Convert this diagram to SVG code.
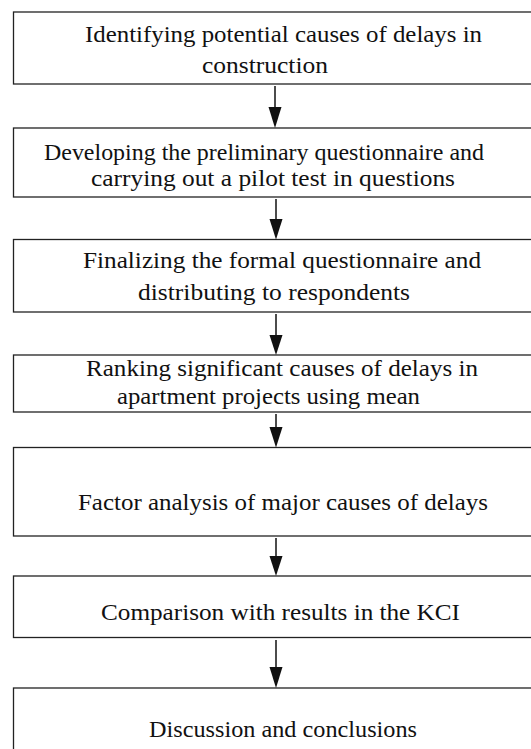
<svg xmlns="http://www.w3.org/2000/svg" width="531" height="749" viewBox="0 0 531 749">
<style>
.box{fill:#fff;stroke:#222;stroke-width:1.3}
.t{font-family:"Liberation Serif","Times New Roman",serif;font-size:23px;fill:#111}
.c{stroke:#111;stroke-width:1.5;fill:none}
.h{fill:#111}
</style>
<rect width="531" height="749" fill="#fff"/>
<g id="n1"><rect class="box" x="13.5" y="12" width="540" height="72"/>
<text class="t" x="85" y="42" textLength="397" lengthAdjust="spacingAndGlyphs">Identifying potential causes of delays in</text>
<text class="t" x="202" y="73" textLength="126" lengthAdjust="spacingAndGlyphs">construction</text></g>
<g id="n2"><rect class="box" x="13.5" y="128" width="540" height="69"/>
<text class="t" x="44" y="160" textLength="440" lengthAdjust="spacingAndGlyphs">Developing the preliminary questionnaire and</text>
<text class="t" x="91" y="186" textLength="364" lengthAdjust="spacingAndGlyphs">carrying out a pilot test in questions</text></g>
<g id="n3"><rect class="box" x="13.5" y="239.5" width="540" height="72.5"/>
<text class="t" x="83" y="268" textLength="398" lengthAdjust="spacingAndGlyphs">Finalizing the formal questionnaire and</text>
<text class="t" x="138" y="300" textLength="272" lengthAdjust="spacingAndGlyphs">distributing to respondents</text></g>
<g id="n4"><rect class="box" x="13.5" y="355" width="540" height="57"/>
<text class="t" x="86" y="376" textLength="392" lengthAdjust="spacingAndGlyphs">Ranking significant causes of delays in</text>
<text class="t" x="117" y="404" textLength="303" lengthAdjust="spacingAndGlyphs">apartment projects using mean</text></g>
<g id="n5"><rect class="box" x="13.5" y="447.5" width="540" height="88.5"/>
<text class="t" x="78" y="510" textLength="410" lengthAdjust="spacingAndGlyphs">Factor analysis of major causes of delays</text></g>
<g id="n6"><rect class="box" x="13.5" y="576" width="540" height="61.5"/>
<text class="t" x="101" y="620" textLength="359" lengthAdjust="spacingAndGlyphs">Comparison with results in the KCI</text></g>
<g id="n7"><rect class="box" x="13.5" y="688" width="540" height="80"/>
<text class="t" x="149" y="737" textLength="268" lengthAdjust="spacingAndGlyphs">Discussion and conclusions</text></g>
<g id="connectors">
<line class="c" x1="275" y1="86" x2="275" y2="110"/><polygon class="h" points="268.5,107 281.5,107 275,128"/>
<line class="c" x1="276" y1="199" x2="276" y2="222"/><polygon class="h" points="269.5,219 282.5,219 276,239.5"/>
<line class="c" x1="276" y1="314" x2="276" y2="338"/><polygon class="h" points="269.5,335 282.5,335 276,355"/>
<line class="c" x1="276" y1="414" x2="276" y2="430"/><polygon class="h" points="269.5,427 282.5,427 276,447.5"/>
<line class="c" x1="276" y1="538" x2="276" y2="559"/><polygon class="h" points="269.5,556 282.5,556 276,576"/>
<line class="c" x1="276" y1="640" x2="276" y2="670"/><polygon class="h" points="269.5,667 282.5,667 276,688"/>
</g>
</svg>
